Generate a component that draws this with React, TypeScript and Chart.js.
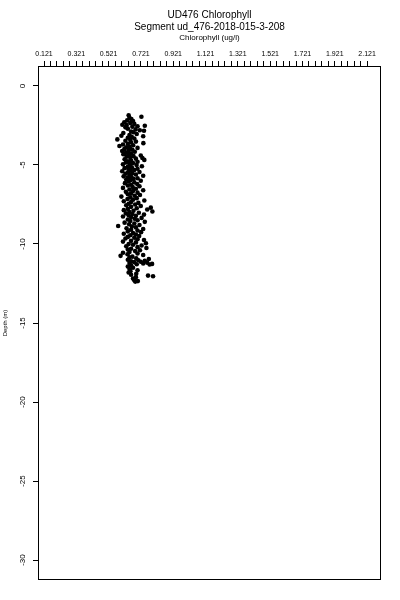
import { useEffect, useRef } from "react";
import { Chart, registerables } from "chart.js";

Chart.register(...registerables);

const mainTitle = "UD476 Chlorophyll";
const subTitle = "Segment ud_476-2018-015-3-208";
const xAxisTitle = "Chlorophyll (ug/l)";
const yAxisTitle = "Depth (m)";

const xTickLabels = ["0.121", "0.321", "0.521", "0.721", "0.921", "1.121", "1.321", "1.521", "1.721", "1.921", "2.121"];
const xTickStart = 0.121;
const xLabelStep = 0.2;
const xMinorPerLabel = 5;
const yTickValues = [-30, -25, -20, -15, -10, -5, 0];

const depth = [
  -1.86, -1.95, -2.02, -2.10, -2.18, -2.22, -2.30, -2.35, -2.40, -2.45, -2.48, -2.52, -2.55, -2.58, -2.62,
  -2.70, -2.75, -2.80, -2.83, -2.88, -2.93, -2.98, -3.04, -3.10, -3.15, -3.18, -3.22, -3.28, -3.32, -3.38, -3.42, -3.47,
  -3.52, -3.58, -3.62, -3.66, -3.70, -3.75, -3.80, -3.85, -3.88, -3.92, -3.96, -4.00, -4.04, -4.08, -4.12, -4.16, -4.20, -4.24, -4.28, -4.32, -4.36, -4.40, -4.44, -4.48,
  -4.52, -4.56, -4.60, -4.64, -4.68, -4.72, -4.76, -4.80, -4.84, -4.88, -4.92, -4.96, -5.00, -5.04, -5.08, -5.12, -5.16, -5.20, -5.24, -5.28, -5.32, -5.36, -5.40, -5.44, -5.48,
  -5.52, -5.56, -5.60, -5.64, -5.68, -5.72, -5.76, -5.80, -5.84, -5.88, -5.92, -5.96, -6.00, -6.05, -6.10, -6.15, -6.20, -6.25, -6.30, -6.35, -6.40, -6.45,
  -6.50, -6.55, -6.60, -6.65, -6.70, -6.75, -6.80, -6.85, -6.90, -6.95, -7.00, -7.05, -7.10, -7.15, -7.20, -7.25, -7.30, -7.35, -7.40, -7.45,
  -7.50, -7.55, -7.60, -7.65, -7.70, -7.74, -7.78, -7.82, -7.86, -7.90, -7.94, -7.98, -8.02, -8.06, -8.10, -8.14, -8.18, -8.22, -8.26, -8.30, -8.35, -8.40, -8.45,
  -8.50, -8.55, -8.60, -8.65, -8.70, -8.75, -8.80, -8.86, -8.90, -8.95, -9.00, -9.05, -9.10, -9.15, -9.20, -9.25, -9.30, -9.35, -9.40, -9.45,
  -9.50, -9.55, -9.60, -9.65, -9.70, -9.75, -9.80, -9.85, -9.90, -9.95, -10.00, -10.05, -10.10, -10.15, -10.20, -10.25, -10.30, -10.35, -10.40, -10.45,
  -10.50, -10.55, -10.60, -10.65, -10.70, -10.75, -10.80, -10.85, -10.90, -10.95, -11.00, -11.03, -11.06, -11.09, -11.12, -11.15, -11.18, -11.20, -11.23, -11.26, -11.28, -11.30,
  -11.35, -11.42, -11.50, -11.58, -11.66, -11.72, -11.80, -11.88, -11.95, -12.00, -12.04, -12.10, -12.18, -12.30, -12.35, -12.38,
];

const chlorophyll = [
  0.645, 0.724, 0.650, 0.662, 0.636, 0.672, 0.618, 0.655, 0.680, 0.606, 0.632, 0.745, 0.700, 0.668, 0.625,
  0.640, 0.688, 0.714, 0.740, 0.660, 0.675, 0.612, 0.695, 0.650, 0.600, 0.735, 0.664, 0.640, 0.680, 0.575, 0.655, 0.625,
  0.690, 0.660, 0.736, 0.640, 0.610, 0.673, 0.588, 0.650, 0.630, 0.700, 0.655, 0.618, 0.668, 0.645, 0.605, 0.683, 0.640, 0.626, 0.660, 0.612, 0.647, 0.720, 0.675, 0.632,
  0.655, 0.730, 0.690, 0.620, 0.742, 0.660, 0.640, 0.700, 0.628, 0.672, 0.650, 0.610, 0.694, 0.655, 0.727, 0.640, 0.665, 0.620, 0.700, 0.645, 0.680, 0.658, 0.605, 0.712, 0.640,
  0.668, 0.625, 0.690, 0.650, 0.735, 0.614, 0.662, 0.640, 0.700, 0.675, 0.630, 0.655, 0.720, 0.645, 0.680, 0.622, 0.698, 0.660, 0.640, 0.712, 0.670, 0.610,
  0.690, 0.650, 0.735, 0.672, 0.628, 0.700, 0.660, 0.640, 0.715, 0.682, 0.600, 0.655, 0.695, 0.638, 0.672, 0.742, 0.615, 0.660, 0.705, 0.645,
  0.685, 0.630, 0.720, 0.660, 0.782, 0.695, 0.640, 0.760, 0.615, 0.675, 0.792, 0.650, 0.708, 0.628, 0.668, 0.740, 0.645, 0.690, 0.610, 0.660, 0.725, 0.682, 0.640,
  0.700, 0.655, 0.745, 0.620, 0.680, 0.648, 0.712, 0.580, 0.665, 0.690, 0.632, 0.735, 0.660, 0.700, 0.640, 0.722, 0.672, 0.615, 0.690, 0.655,
  0.710, 0.640, 0.680, 0.625, 0.700, 0.740, 0.660, 0.610, 0.690, 0.752, 0.645, 0.672, 0.725, 0.630, 0.700, 0.755, 0.660, 0.640, 0.715, 0.685,
  0.650, 0.610, 0.700, 0.638, 0.735, 0.595, 0.668, 0.650, 0.692, 0.770, 0.640, 0.705, 0.745, 0.660, 0.720, 0.680, 0.760, 0.650, 0.735, 0.790, 0.695, 0.775,
  0.660, 0.640, 0.672, 0.650, 0.700, 0.656, 0.645, 0.692, 0.660, 0.765, 0.796, 0.690, 0.672, 0.680, 0.702, 0.686,
];

const FONT = "'Liberation Sans Narrow', 'Liberation Sans', Arial, sans-serif";

export default function App() {
  const ref = useRef<HTMLCanvasElement | null>(null);

  useEffect(() => {
    const canvas = ref.current;
    if (!canvas) return;

    const nMinor = (xTickLabels.length - 1) * xMinorPerLabel;
    const xTicks: number[] = [];
    for (let i = 0; i <= nMinor; i++) xTicks.push(xTickStart + (i * xLabelStep) / xMinorPerLabel);

    const points = depth.map((d, i) => ({ x: chlorophyll[i], y: d }));

    const framePlugin = {
      id: "frameAndTitles",
      afterDraw(chart: any) {
        const { ctx, chartArea } = chart;
        ctx.save();
        ctx.strokeStyle = "#000";
        ctx.lineWidth = 1;
        ctx.strokeRect(
          Math.round(chartArea.left) - 0.5,
          Math.round(chartArea.top) - 0.5,
          Math.round(chartArea.right - chartArea.left) + 1,
          Math.round(chartArea.bottom - chartArea.top) + 1
        );
        const cx = (chartArea.left + chartArea.right) / 2;
        ctx.fillStyle = "#000";
        ctx.textAlign = "center";
        ctx.textBaseline = "middle";
        ctx.font = `10px ${FONT}`;
        ctx.fillText(mainTitle, cx, 15);
        ctx.fillText(subTitle, cx, 27);
        ctx.restore();
      },
    };

    const chart = new Chart(canvas, {
      type: "scatter",
      data: {
        datasets: [
          {
            data: points,
            backgroundColor: "#000",
            borderColor: "#000",
            borderWidth: 0,
            pointRadius: 2.3,
            pointHoverRadius: 2.3,
          },
        ],
      },
      options: {
        responsive: false,
        animation: false,
        devicePixelRatio: 1,
        layout: { padding: { top: 0, left: 0, right: 20, bottom: 21 } },
        plugins: {
          legend: { display: false },
          tooltip: { enabled: false },
          title: { display: false },
        },
        scales: {
          x: {
            type: "linear",
            position: "top",
            min: 0.09,
            max: 2.201,
            border: { display: false },
            grid: {
              drawOnChartArea: false,
              drawTicks: true,
              tickLength: 6,
              tickColor: "#000",
              lineWidth: 1,
            },
            ticks: {
              autoSkip: false,
              maxRotation: 0,
              minRotation: 0,
              padding: 3,
              color: "#000",
              font: { size: 7, family: FONT },
              callback: (_v: any, index: number) =>
                index % xMinorPerLabel === 0 ? xTickLabels[index / xMinorPerLabel] : "",
            },
            afterBuildTicks: (scale: any) => {
              scale.ticks = xTicks.map((v) => ({ value: v }));
            },
            afterFit: (scale: any) => {
              scale.height = 67;
            },
            title: {
              display: true,
              text: xAxisTitle,
              color: "#000",
              font: { size: 8, family: FONT },
              padding: { top: 33, bottom: 0 },
            },
          },
          y: {
            type: "linear",
            position: "left",
            min: -31.2,
            max: 1.2,
            border: { display: false },
            grid: {
              drawOnChartArea: false,
              drawTicks: true,
              tickLength: 6,
              tickColor: "#000",
              lineWidth: 1,
            },
            ticks: {
              autoSkip: false,
              minRotation: 90,
              maxRotation: 90,
              crossAlign: "center",
              padding: 4,
              color: "#000",
              font: { size: 8, family: FONT },
              callback: (v: any) => String(v),
            },
            afterBuildTicks: (scale: any) => {
              scale.ticks = yTickValues.map((v) => ({ value: v }));
            },
            afterFit: (scale: any) => {
              scale.width = 39;
            },
            title: {
              display: true,
              text: yAxisTitle,
              color: "#000",
              font: { size: 6, family: FONT },
              padding: { top: 2, bottom: 0 },
            },
          },
        },
      },
      plugins: [framePlugin],
    });

    return () => chart.destroy();
  }, []);

  return (
    <div style={{ position: "fixed", left: 0, top: 0, width: 400, height: 600, background: "#fff" }}>
      <canvas ref={ref} width={400} height={600} style={{ width: 400, height: 600 }} />
    </div>
  );
}
